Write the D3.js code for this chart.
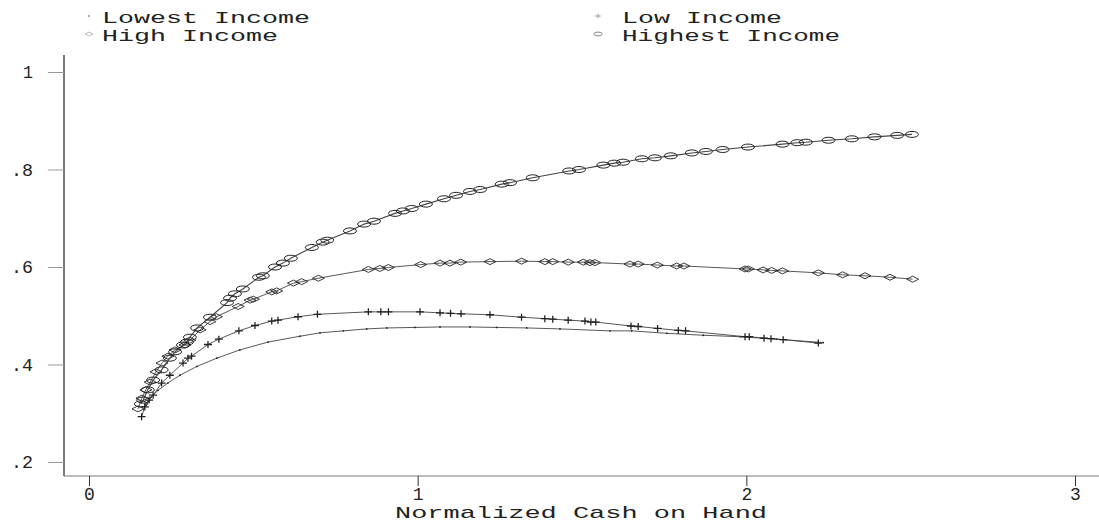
<!DOCTYPE html>
<html>
<head>
<meta charset="utf-8">
<script src="https://cdn.jsdelivr.net/npm/d3@7"></script>
<style>
  body { margin: 0; background: #fff; }
  text { font-family: "Liberation Mono", "DejaVu Sans Mono", monospace; fill: #222; }
</style>
</head>
<body>
<svg id="chart" width="1099" height="527"></svg>
<script>
// tick labels
var xTicks = [0, 1, 2, 3];
var yTicks = [0.2, 0.4, 0.6, 0.8, 1];

// Lowest Income (dots)
var lowestX = [0.170, 0.189, 0.210, 0.240, 0.277, 0.328, 0.389, 0.459, 0.545, 0.642, 0.703, 0.774, 0.845, 0.906,
  0.992, 1.068, 1.159, 1.240, 1.332, 1.433, 1.585, 1.651, 1.758, 1.869, 1.981, 2.092, 2.234];
var lowestY = [0.318, 0.333, 0.347, 0.362, 0.378, 0.396, 0.413, 0.430, 0.446, 0.458, 0.465, 0.469, 0.473, 0.475,
  0.476, 0.477, 0.477, 0.476, 0.475, 0.473, 0.469, 0.469, 0.464, 0.460, 0.457, 0.452, 0.445];

// Low Income (plus)
var lowX = [0.160, 0.170, 0.183, 0.195, 0.221, 0.246, 0.286, 0.301, 0.312, 0.362, 0.395, 0.456, 0.505, 0.556, 0.575,
  0.636, 0.695, 0.850, 0.888, 0.911, 1.007, 1.068, 1.100, 1.132, 1.220, 1.316, 1.387, 1.411, 1.458, 1.509, 1.527,
  1.542, 1.649, 1.671, 1.730, 1.793, 1.815, 1.996, 2.009, 2.054, 2.075, 2.112, 2.219];
var lowY = [0.293, 0.313, 0.327, 0.337, 0.362, 0.378, 0.403, 0.413, 0.417, 0.441, 0.452, 0.469, 0.480, 0.489, 0.491,
  0.498, 0.503, 0.508, 0.508, 0.508, 0.508, 0.506, 0.505, 0.504, 0.502, 0.497, 0.494, 0.493, 0.491, 0.489, 0.487,
  0.487, 0.479, 0.478, 0.474, 0.470, 0.469, 0.457, 0.457, 0.454, 0.453, 0.451, 0.444];

// High Income (diamonds)
var highX = [0.149, 0.161, 0.173, 0.186, 0.204, 0.222, 0.240, 0.262, 0.292, 0.307, 0.338, 0.368, 0.388, 0.454, 0.490,
  0.500, 0.556, 0.571, 0.622, 0.647, 0.698, 0.850, 0.885, 0.911, 1.009, 1.068, 1.098, 1.131, 1.220, 1.316, 1.387,
  1.411, 1.458, 1.504, 1.524, 1.539, 1.646, 1.671, 1.729, 1.788, 1.810, 1.996, 2.006, 2.051, 2.077, 2.110, 2.219,
  2.293, 2.361, 2.437, 2.506];
var highY = [0.309, 0.331, 0.348, 0.364, 0.385, 0.403, 0.417, 0.430, 0.440, 0.450, 0.471, 0.488, 0.498, 0.519, 0.532,
  0.534, 0.549, 0.551, 0.567, 0.570, 0.577, 0.595, 0.597, 0.599, 0.605, 0.608, 0.608, 0.610, 0.611, 0.612, 0.611,
  0.611, 0.610, 0.610, 0.609, 0.609, 0.606, 0.606, 0.604, 0.602, 0.602, 0.596, 0.596, 0.594, 0.593, 0.592, 0.588,
  0.584, 0.582, 0.579, 0.575];

// Highest Income (ellipses)
var highestX = [0.158, 0.165, 0.179, 0.195, 0.221, 0.246, 0.262, 0.286, 0.298, 0.307, 0.329, 0.368, 0.420, 0.429,
  0.444, 0.468, 0.517, 0.529, 0.566, 0.590, 0.614, 0.678, 0.711, 0.725, 0.794, 0.837, 0.867, 0.931, 0.955, 0.982,
  1.025, 1.080, 1.117, 1.159, 1.190, 1.256, 1.281, 1.350, 1.461, 1.491, 1.565, 1.598, 1.625, 1.682, 1.722, 1.770,
  1.834, 1.877, 1.928, 2.005, 2.110, 2.155, 2.181, 2.250, 2.321, 2.390, 2.459, 2.504];
var highestY = [0.319, 0.327, 0.348, 0.368, 0.389, 0.413, 0.426, 0.440, 0.446, 0.456, 0.475, 0.497, 0.527, 0.536,
  0.545, 0.555, 0.579, 0.582, 0.600, 0.608, 0.618, 0.640, 0.651, 0.655, 0.674, 0.688, 0.694, 0.710, 0.715, 0.720,
  0.729, 0.740, 0.747, 0.755, 0.759, 0.770, 0.773, 0.783, 0.797, 0.800, 0.809, 0.813, 0.815, 0.822, 0.824, 0.828,
  0.834, 0.837, 0.841, 0.846, 0.852, 0.855, 0.856, 0.860, 0.863, 0.867, 0.870, 0.872];

var svg = d3.select("#chart");

var x = d3.scaleLinear().domain([0, 3]).range([89, 1075]);
var y = d3.scaleLinear().domain([0.2, 1]).range([462, 72]);

// axis lines
svg.append("line").attr("x1", 64).attr("x2", 64).attr("y1", 55).attr("y2", 476)
  .attr("stroke", "#222").attr("stroke-width", 1.2);
svg.append("line").attr("x1", 64).attr("x2", 1099).attr("y1", 476).attr("y2", 476)
  .attr("stroke", "#777").attr("stroke-width", 1);

// Y axis
var yAxis = d3.axisLeft(y).tickValues(yTicks).tickSize(16).tickPadding(15)
  .tickFormat(function (d) { return d === 1 ? "1" : d3.format(".1f")(d).replace(/^0/, ""); });
var gy = svg.append("g").attr("transform", "translate(64,0)").call(yAxis);
gy.select(".domain").remove();
gy.selectAll("line").attr("stroke", "#999");
gy.selectAll("text").attr("font-family", null).style("font-size", "18px")
  .attr("textLength", function (d) { return d === 1 ? 10 : 22; }).attr("lengthAdjust", "spacingAndGlyphs");

// X axis
var xAxis = d3.axisBottom(x).tickValues(xTicks).tickSize(10).tickFormat(d3.format("d"));
var gx = svg.append("g").attr("transform", "translate(0,476)").call(xAxis);
gx.select(".domain").remove();
gx.selectAll("line").attr("stroke", "#333");
gx.selectAll("text").attr("font-family", null).attr("y", 24).attr("dy", 0).style("font-size", "18px");

svg.append("text").attr("x", 581).attr("y", 518).attr("text-anchor", "middle")
  .attr("textLength", 372).attr("lengthAdjust", "spacingAndGlyphs")
  .style("font-size", "17px").text("Normalized Cash on Hand");

function zip(xs, ys) {
  return xs.map(function (v, i) { return { x: v, y: ys[i] }; });
}

var line = d3.line()
  .x(function (d) { return x(d.x); })
  .y(function (d) { return y(d.y); });

var series = [
  { name: "Lowest Income", data: zip(lowestX, lowestY), marker: "dot" },
  { name: "Low Income", data: zip(lowX, lowY), marker: "plus" },
  { name: "High Income", data: zip(highX, highY), marker: "diamond" },
  { name: "Highest Income", data: zip(highestX, highestY), marker: "ellipse" }
];

function drawMarker(g, type, stroke, k) {
  k = k || 1;
  if (type === "dot") {
    g.append("circle").attr("r", 0.9).attr("fill", stroke);
  } else if (type === "plus") {
    g.append("path").attr("d", "M-4,0H4M0,-3.5V3.5").attr("transform", "scale(" + k + ")")
      .attr("stroke", stroke).attr("stroke-width", 1.3).attr("fill", "none");
  } else if (type === "diamond") {
    g.append("path").attr("d", "M-6,0L0,-3L6,0L0,3Z").attr("transform", "scale(" + k + ")")
      .attr("stroke", stroke).attr("stroke-width", 0.9).attr("fill", "none");
  } else {
    g.append("ellipse").attr("rx", 6.5 * k).attr("ry", 3 * k)
      .attr("stroke", stroke).attr("stroke-width", 1).attr("fill", "none");
  }
}

series.forEach(function (s) {
  svg.append("path").datum(s.data)
    .attr("d", line)
    .attr("fill", "none")
    .attr("stroke", "#444")
    .attr("stroke-width", s.marker === "ellipse" ? 1.1 : 0.9);

  svg.append("g").selectAll("g").data(s.data).enter().append("g")
    .attr("transform", function (d) { return "translate(" + x(d.x) + "," + y(d.y) + ")"; })
    .each(function () { drawMarker(d3.select(this), s.marker, "#222"); });
});

// legend
var legend = [
  { name: "Lowest Income", marker: "dot", lx: 89, ly: 16, w: 208 },
  { name: "Low Income", marker: "plus", lx: 598, ly: 16, w: 160 },
  { name: "High Income", marker: "diamond", lx: 89, ly: 34, w: 176 },
  { name: "Highest Income", marker: "ellipse", lx: 598, ly: 34, w: 218 }
];
legend.forEach(function (l) {
  var g = svg.append("g").attr("transform", "translate(" + l.lx + "," + l.ly + ")");
  drawMarker(g, l.marker, "#888", 0.65);
  svg.append("text").attr("x", 102 + (l.lx - 89) + (l.lx > 89 ? 11 : 0)).attr("y", l.ly + 7)
    .attr("textLength", l.w).attr("lengthAdjust", "spacingAndGlyphs")
    .style("font-size", "17px").text(l.name);
});
</script>
</body>
</html>
